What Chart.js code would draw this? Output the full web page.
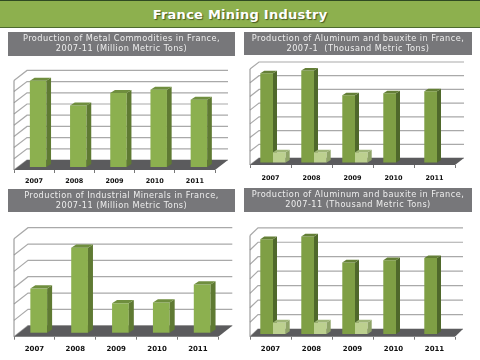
<!DOCTYPE html>
<html><head><meta charset="utf-8">
<script src="https://cdn.jsdelivr.net/npm/chart.js@4"></script>
<style>
html,body{margin:0;padding:0;background:#fff;width:480px;height:360px;overflow:hidden}
#banner{position:absolute;left:0;top:0;width:480px;height:26px;background:#8db04e;border-top:1px solid #2f4a22;border-bottom:1px solid #4d6a2e;
 color:#fff;font:bold 13px "DejaVu Sans";letter-spacing:.25px;text-align:center;line-height:27px;text-shadow:1px 1px 1px #45591f}
.t{position:absolute;background:#77777a;color:#eee;font:8.2px/9.5px "DejaVu Sans";letter-spacing:.45px;text-align:center;white-space:pre;filter:blur(.25px)}
canvas{position:absolute;filter:blur(.35px)}
</style></head><body>
<div id="banner">France Mining Industry</div>
<script>
const years = ["2007","2008","2009","2010","2011"];
const titleMetal = "Production of Metal Commodities in France,\n2007-11 (Million Metric Tons)";
const titleAlu1 = "Production of Aluminum and bauxite in France,\n2007-1  (Thousand Metric Tons)";
const titleMinerals = "Production of Industrial Minerals in France,\n2007-11 (Million Metric Tons)";
const titleAlu2 = "Production of Aluminum and bauxite in France,\n2007-11 (Thousand Metric Tons)";
const metal = [7.7, 5.5, 6.6, 6.9, 6.0];
const minerals = [2.7, 5.2, 1.8, 1.85, 2.95];
const aluminum1 = [6.5, 6.7, 4.9, 5.05, 5.2];
const bauxite1 = [0.75, 0.75, 0.75, null, null];
const aluminum2 = [6.55, 6.75, 4.95, 5.1, 5.25];
const bauxite2 = [0.8, 0.8, 0.8, null, null];

const GREEN = ["#8cb04f", "#5f7a33", "#6f8e3e"];
const DARK = ["#7f9f45", "#4f682b", "#647f37"];
const LIGHT = ["#bcd08f", "#8fa468", "#9fb577"];

function sides(chart, index, o) {
  const c = chart.ctx, ds = chart.data.datasets[index], pal = ds.palette;
  chart.getDatasetMeta(index).data.forEach((b, i) => {
    if (ds.data[i] == null) return;
    const r = b.x + b.width / 2, l = b.x - b.width / 2, t = b.y, s = b.base;
    c.fillStyle = pal[1];
    c.beginPath(); c.moveTo(r, t); c.lineTo(r + o.sideDx, t + o.sideDy); c.lineTo(r + o.sideDx, s + o.sideDy); c.lineTo(r, s); c.closePath(); c.fill();
    c.fillStyle = pal[2];
    c.beginPath(); c.moveTo(l, t); c.lineTo(l + o.sideDx, t + o.sideDy); c.lineTo(r + o.sideDx, t + o.sideDy); c.lineTo(r, t); c.closePath(); c.fill();
  });
}

const threeD = {
  id: "threeD",
  beforeDatasetsDraw(chart, a, o) {
    const c = chart.ctx, y = chart.scales.y, {left, right, bottom} = chart.chartArea;
    const dx = o.wallDx, dy = o.wallDy;
    c.save();
    c.lineWidth = 1.2; c.strokeStyle = "#a9a9a9";
    y.ticks.forEach(t => {
      const p = y.getPixelForValue(t.value);
      c.beginPath(); c.moveTo(left, p); c.lineTo(left + dx, p + dy); c.lineTo(right + dx, p + dy); c.stroke();
    });
    c.lineWidth = 1; c.strokeStyle = "#8a8a8a";
    c.beginPath(); c.moveTo(left, bottom); c.lineTo(left, y.getPixelForValue(y.max)); c.stroke();
    c.fillStyle = "#5b5b5d";
    c.beginPath(); c.moveTo(left, bottom); c.lineTo(left + dx, bottom + dy); c.lineTo(right + dx, bottom + dy); c.lineTo(right, bottom); c.closePath(); c.fill();
    c.restore();
  },
  beforeDatasetDraw(chart, args, o) {
    if (args.index === 1) return false;   // the front series is drawn last, over the tall bars
    chart.ctx.save();
    chart.ctx.translate(o.barDx, o.barDy);
  },
  afterDatasetDraw(chart, args, o) {
    sides(chart, args.index, o);
    chart.ctx.restore();
  },
  afterDatasetsDraw(chart, a, o) {
    if (chart.data.datasets.length < 2) return;
    const c = chart.ctx;
    c.save();
    c.translate(o.barDx, o.barDy);
    chart.getDatasetMeta(1).controller.draw();
    sides(chart, 1, o);
    c.restore();
  }
};

function panel(cfg) {
  const ti = document.createElement("div");
  ti.className = "t"; ti.textContent = cfg.title;
  const [tx, ty, tw, th] = cfg.titleBox;
  ti.style.cssText = `left:${tx}px;top:${ty}px;width:${tw}px;height:${th - 2}px;padding-top:2px`;
  document.body.appendChild(ti);
  const x0 = cfg.x0, top = cfg.canvasTop, h = cfg.canvasH;
  const cv = document.createElement("canvas");
  cv.width = 240; cv.height = h;
  cv.style.cssText = `left:${x0}px;top:${top}px;width:240px;height:${h}px`;
  document.body.appendChild(cv);
  const pal = cfg.second ? DARK : GREEN;
  const datasets = [{data: cfg.main, backgroundColor: pal[0], palette: pal, clip: false}];
  if (cfg.second) datasets.push({data: cfg.second, backgroundColor: LIGHT[0], palette: LIGHT, clip: false});
  new Chart(cv, {
    type: "bar",
    data: {labels: years, datasets},
    plugins: [threeD],
    options: {
      responsive: false, animation: false,
      categoryPercentage: cfg.second ? 0.62 : 0.41, barPercentage: 1,
      layout: {padding: {left: cfg.left - x0, right: x0 + 240 - cfg.right, top: cfg.frontTop - top, bottom: 0}},
      scales: {
        y: {display: false, min: 0, max: cfg.yMax, ticks: {stepSize: 1, autoSkip: false}},
        x: {
          afterFit: s => { s.height = top + h - cfg.bottom; },
          border: {display: false},
          grid: {drawOnChartArea: false, tickLength: 3, color: "#777"},
          ticks: {color: "#111", font: {family: "DejaVu Sans", size: cfg.labelSize, weight: "bold"}, padding: cfg.labelPad, maxRotation: 0}
        }
      },
      plugins: {legend: {display: false}, tooltip: {enabled: false}, title: {display: false},
        threeD: {wallDx: cfg.wall[0], wallDy: cfg.wall[1], barDx: cfg.shift[0], barDy: cfg.shift[1], sideDx: cfg.side[0], sideDy: cfg.side[1]}}
    }
  });
}

panel({title: titleMetal, titleBox: [8, 32, 227, 24], x0: 0, canvasTop: 60, canvasH: 130, left: 14, right: 215, frontTop: 80.4, bottom: 170,
  yMax: 8, main: metal, wall: [13, -10], shift: [4, -3], side: [4.7, -3], labelPad: 4, labelSize: 6.5});
panel({title: titleAlu1, titleBox: [244, 32, 228, 23], x0: 240, canvasTop: 55, canvasH: 130, left: 250, right: 455, frontTop: 69, bottom: 165,
  yMax: 7, main: aluminum1, second: bauxite1, wall: [9, -7], shift: [2.5, -2.5], side: [4, -2.5], labelPad: 6, labelSize: 6.5});
panel({title: titleMinerals, titleBox: [8, 189, 227, 23], x0: 0, canvasTop: 216, canvasH: 140, left: 14, right: 218.3, frontTop: 238.7, bottom: 336.7,
  yMax: 6, main: minerals, wall: [14, -11], shift: [4.3, -4], side: [5, -3.3], labelPad: 5, labelSize: 7});
panel({title: titleAlu2, titleBox: [244, 188, 228, 24], x0: 240, canvasTop: 216, canvasH: 140, left: 250, right: 455, frontTop: 235.5, bottom: 336.7,
  yMax: 7, main: aluminum2, second: bauxite2, wall: [8, -7.7], shift: [2.5, -2.7], side: [4, -2.7], labelPad: 5, labelSize: 7});
</script>
</body></html>
